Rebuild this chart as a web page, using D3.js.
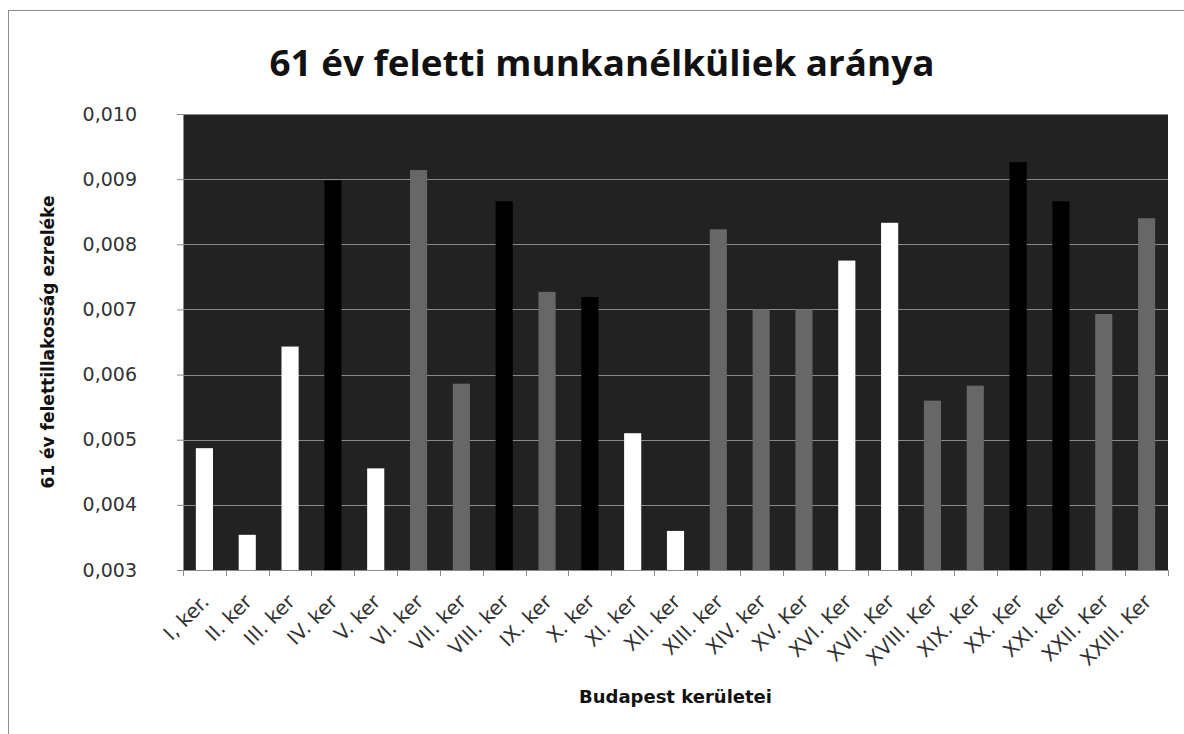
<!DOCTYPE html>
<html>
<head>
<meta charset="utf-8">
<script src="https://cdnjs.cloudflare.com/ajax/libs/d3/7.8.5/d3.min.js"></script>
<style>
  html, body { margin: 0; padding: 0; background: #fff; }
  svg { display: block; }
</style>
</head>
<body>
<svg id="chart"></svg>
<script>
// data
var districts = ['I, ker.', 'II. ker', 'III. ker', 'IV. ker', 'V. ker', 'VI. ker', 'VII. ker',
  'VIII. ker', 'IX. ker', 'X. ker', 'XI. ker', 'XII. ker', 'XIII. ker', 'XIV. ker', 'XV. Ker',
  'XVI. Ker', 'XVII. Ker', 'XVIII. Ker', 'XIX. Ker', 'XX. Ker', 'XXI. Ker', 'XXII. Ker', 'XXIII. Ker'];

var ratio_values = [0.00487, 0.00354, 0.00643, 0.00898, 0.00456, 0.00914, 0.00586,
  0.00866, 0.00727, 0.00719, 0.00510, 0.00360, 0.00823, 0.00700, 0.00700,
  0.00775, 0.00833, 0.00560, 0.00583, 0.00926, 0.00866, 0.00693, 0.00840];

// which shade each bar has in the picture
var shade_group = ['low', 'low', 'low', 'high', 'low', 'mid', 'mid',
  'high', 'mid', 'high', 'low', 'low', 'mid', 'mid', 'mid',
  'low', 'low', 'mid', 'mid', 'high', 'high', 'mid', 'mid'];

var y_ticks = [0.003, 0.004, 0.005, 0.006, 0.007, 0.008, 0.009, 0.010];

var chart_title = '61 év feletti munkanélküliek aránya',
  y_title = '61 év felettillakosság ezreléke',
  x_title = 'Budapest kerületei';

// layout
var svg_width = 1184,
  svg_height = 734,
  plot_left = 183,
  plot_right = 1168,
  plot_top = 114,
  plot_bottom = 570;

var svg = d3.select('#chart')
  .attr('width', svg_width)
  .attr('height', svg_height);

// outer chart frame (right and bottom run off the picture)
svg.append('rect')
  .attr('x', 8.5)
  .attr('y', 10.5)
  .attr('width', svg_width + 10)
  .attr('height', svg_height + 10)
  .attr('fill', '#fff')
  .attr('stroke', '#8c8c8c')
  .attr('stroke-width', 1);

var x_scale = d3.scaleBand()
  .domain(districts)
  .range([plot_left, plot_right])
  .paddingInner(0.6)
  .paddingOuter(0.3);

var x_step = d3.scaleBand().domain(districts).range([plot_left, plot_right]);

var y_scale = d3.scaleLinear()
  .domain([0.003, 0.010])
  .range([plot_bottom, plot_top]);

var shade_scale = d3.scaleOrdinal()
  .domain(['low', 'mid', 'high'])
  .range(['#ffffff', '#676767', '#000000']);

// plot background
svg.append('rect')
  .attr('x', plot_left)
  .attr('y', plot_top)
  .attr('width', plot_right - plot_left)
  .attr('height', plot_bottom - plot_top)
  .attr('fill', '#222222');

// gridlines
svg.append('g')
  .selectAll('line')
  .data(y_ticks.slice(1))
  .enter()
  .append('line')
  .attr('x1', plot_left)
  .attr('x2', plot_right)
  .attr('y1', function(d) { return Math.round(y_scale(d)) + 0.5; })
  .attr('y2', function(d) { return Math.round(y_scale(d)) + 0.5; })
  .attr('stroke', '#8a8a8a')
  .attr('stroke-width', 1.2);

// bars
svg.append('g')
  .selectAll('rect')
  .data(districts)
  .enter()
  .append('rect')
  .attr('x', function(d) { return x_scale(d); })
  .attr('width', x_scale.bandwidth())
  .attr('y', function(d, i) { return y_scale(ratio_values[i]); })
  .attr('height', function(d, i) { return plot_bottom - y_scale(ratio_values[i]); })
  .attr('fill', function(d, i) { return shade_scale(shade_group[i]); });

// y axis
var y_axis = svg.append('g')
  .attr('transform', 'translate(' + plot_left + ',0)')
  .call(d3.axisLeft(y_scale)
    .tickValues(y_ticks)
    .tickSize(6)
    .tickPadding(40)
    .tickFormat(function(d) { return d3.format('.3f')(d).replace('.', ','); }));

y_axis.selectAll('.domain, .tick line').attr('stroke', '#8a8a8a');
y_axis.selectAll('.tick text')
  .attr('font-family', 'DejaVu Sans')
  .attr('font-size', 19)
  .attr('fill', '#333');

// x axis, ticks on the band edges like the original
var x_axis = svg.append('g')
  .attr('transform', 'translate(0,' + plot_bottom + ')');

x_axis.append('line')
  .attr('x1', plot_left)
  .attr('x2', plot_right)
  .attr('y1', 0.5)
  .attr('y2', 0.5)
  .attr('stroke', '#8a8a8a');

var edge_positions = districts.map(function(d) { return x_step(d); }).concat([plot_right]);

x_axis.selectAll('.edge')
  .data(edge_positions)
  .enter()
  .append('line')
  .attr('class', 'edge')
  .attr('x1', function(d) { return Math.round(d) + 0.5; })
  .attr('x2', function(d) { return Math.round(d) + 0.5; })
  .attr('y1', 0)
  .attr('y2', 6)
  .attr('stroke', '#8a8a8a');

x_axis.selectAll('.label')
  .data(districts)
  .enter()
  .append('text')
  .attr('class', 'label')
  .attr('transform', function(d) {
    var cx = x_step(d) + x_step.bandwidth() / 2;
    return 'translate(' + (cx + 1) + ',28) rotate(-45)';
  })
  .attr('text-anchor', 'end')
  .attr('dy', '0.35em')
  .attr('font-family', 'DejaVu Sans')
  .attr('font-size', 20)
  .attr('fill', '#333')
  .text(function(d) { return d; });

// titles
svg.append('text')
  .attr('x', 602)
  .attr('y', 76)
  .attr('text-anchor', 'middle')
  .attr('textLength', 665)
  .attr('lengthAdjust', 'spacingAndGlyphs')
  .attr('font-family', 'Open Sans')
  .attr('font-weight', 'bold')
  .attr('font-size', 36)
  .attr('fill', '#111')
  .text(chart_title);

svg.append('text')
  .attr('transform', 'translate(54,' + ((plot_top + plot_bottom) / 2) + ') rotate(-90)')
  .attr('text-anchor', 'middle')
  .attr('font-family', 'DejaVu Sans')
  .attr('font-weight', 'bold')
  .attr('font-size', 17)
  .attr('fill', '#111')
  .text(y_title);

svg.append('text')
  .attr('x', (plot_left + plot_right) / 2)
  .attr('y', 703)
  .attr('text-anchor', 'middle')
  .attr('font-family', 'DejaVu Sans')
  .attr('font-weight', 'bold')
  .attr('font-size', 18)
  .attr('fill', '#111')
  .text(x_title);
</script>
</body>
</html>
